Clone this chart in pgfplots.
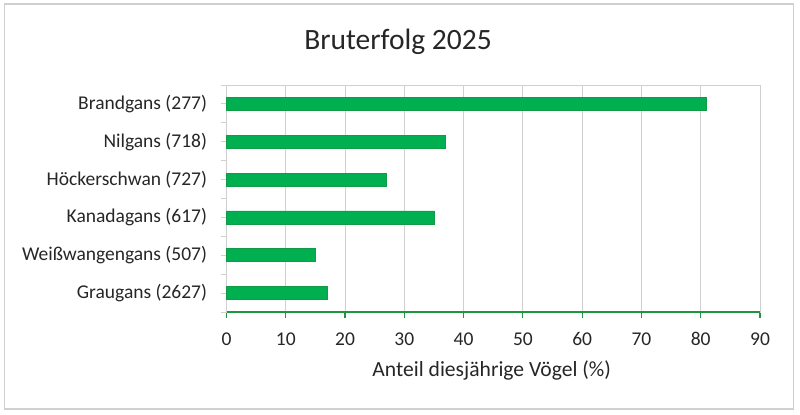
\documentclass[border=0pt]{standalone}
\usepackage{pgfplots}
\pgfplotsset{compat=1.18}
\usepackage{fontspec}
\setmainfont{Carlito}
\definecolor{barfill}{HTML}{00B050}
\definecolor{bardraw}{HTML}{139A45}
\definecolor{axgreen}{HTML}{1E9640}
\definecolor{gridgray}{HTML}{D0D0D0}
\definecolor{txt}{HTML}{262626}
\begin{document}
\begin{tikzpicture}[x=1bp,y=1bp]
\path (0,0) rectangle (800,414);
\draw[gridgray, line width=1.3bp] (4.5,5) rectangle (793.5,410);
\begin{axis}[
  at={(226.5bp,102bp)}, anchor=south west,
  scale only axis,
  width=533.5bp, height=227bp,
  xmin=0, xmax=90,
  ymin=-0.5, ymax=5.5,
  xbar, bar width=13bp,
  xtick={0,10,...,90},
  xtick pos=bottom,
  ytick={-0.5,0.5,...,5.5},
  yticklabels={},
  ytick pos=left,
  extra y ticks={0,1,2,3,4,5},
  extra y tick labels={Graugans (2627),Weißwangengans (507),Kanadagans (617),Höckerschwan (727),Nilgans (718),Brandgans (277)},
  extra y tick style={tick style={draw=none}},
  tick align=outside,
  major tick length=6bp,
  xtick style={draw=axgreen, line width=1.2bp},
  ytick style={draw=gridgray, line width=1bp},
  xmajorgrids,
  major grid style={draw=gridgray, line width=1bp},
  axis line style={draw=gridgray, line width=1bp},
  /pgf/number format/assume math mode=true,
  ticklabel style={font=\fontsize{19.5bp}{23bp}\selectfont, text=txt},
  xticklabel style={yshift=-11bp},
  yticklabel style={xshift=-10bp},
  xlabel={Anteil diesjährige Vögel (\%)},
  xlabel style={font=\fontsize{21.6bp}{25bp}\selectfont, text=txt,
    at={(rel axis cs:0.5,0)}, anchor=base, yshift=-64.7bp, xshift=-1.5bp},
  clip=false,
]
\addplot[fill=barfill, draw=bardraw, line width=0.8bp] coordinates {
  (17,0) (15,1) (35,2) (27,3) (37,4) (81,5)
};
\draw[axgreen, line width=1.5bp] (axis cs:0,-0.5) -- (axis cs:90,-0.5);
\end{axis}
\node[anchor=base, text=txt, font=\fontsize{29.5bp}{34bp}\selectfont] at (398,364.7) {Bruterfolg 2025};
\end{tikzpicture}
\end{document}
